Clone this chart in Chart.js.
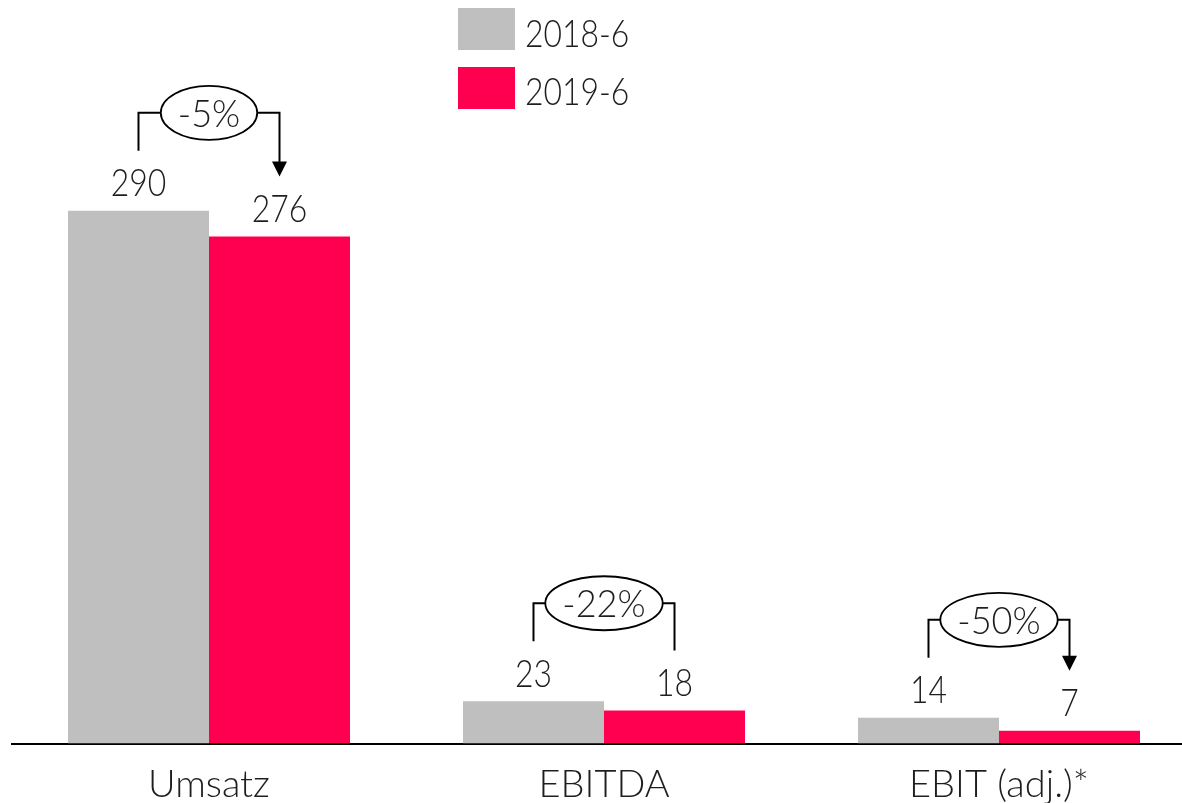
<!DOCTYPE html>
<html><head><meta charset="utf-8">
<script src="https://cdn.jsdelivr.net/npm/chart.js@4.4.0/dist/chart.umd.min.js"></script>
<style>html,body{margin:0;padding:0;background:#fff;overflow:hidden;} #wrap{width:1182px;height:803px;overflow:hidden;position:relative;background:#fff;} canvas{display:block;}</style>
</head><body><div id="wrap"><canvas id="c" width="1200" height="803"></canvas></div>
<script>
const categories = ['Umsatz', 'EBITDA', 'EBIT (adj.)*'];
const seriesNames = ['2018-6', '2019-6'];
const values2018 = [290, 23, 14];
const values2019 = [276, 18, 7];
const changeLabels = ['-5%', '-22%', '-50%'];
const changeArrow = [true, false, true];
const seriesColors = ['#BFBFBF', '#FF0050'];

const FAMILY = "Lato, 'Source Sans Pro', 'Open Sans', sans-serif";
const SIZE = 38;
const WEIGHT = 300;
const FONT = WEIGHT + ' ' + SIZE + 'px ' + FAMILY;
const TEXT = '#1e1e1e';
const NARROW = 0.84;
const PCT_NARROW = 0.95;

function drawText(ctx, str, x, y, align, sx) {
  ctx.save();
  ctx.translate(x, y);
  ctx.scale(sx, 1);
  ctx.textAlign = align; ctx.textBaseline = 'alphabetic';
  ctx.fillText(str, 0, 0);
  ctx.restore();
}

const valueLabels = {
  id: 'valueLabels',
  afterDatasetsDraw(chart) {
    const ctx = chart.ctx;
    ctx.save();
    ctx.font = FONT; ctx.fillStyle = TEXT;
    chart.data.datasets.forEach((ds, di) => {
      chart.getDatasetMeta(di).data.forEach((bar, i) => {
        drawText(ctx, String(ds.data[i]), bar.x, bar.y - 14.5, 'center', NARROW);
      });
    });
    ctx.restore();
  }
};

const changeBrackets = {
  id: 'changeBrackets',
  afterDatasetsDraw(chart) {
    const ctx = chart.ctx;
    const m0 = chart.getDatasetMeta(0).data, m1 = chart.getDatasetMeta(1).data;
    ctx.save();
    ctx.font = FONT;
    ctx.strokeStyle = '#000'; ctx.fillStyle = '#000';
    categories.forEach((c, i) => {
      const a = m0[i], b = m1[i];
      const x0 = a.x, x1 = b.x;
      const by = Math.min(a.y, b.y) - 98;
      const y0 = a.y - 60, y1 = b.y - 60;
      const w = ctx.measureText(changeLabels[i]).width * PCT_NARROW;
      const rx = w / 2 + 17, ry = 27;
      const cx = (x0 + x1) / 2;
      ctx.lineWidth = 2;
      ctx.beginPath();
      ctx.moveTo(x0, y0); ctx.lineTo(x0, by); ctx.lineTo(cx - rx, by);
      ctx.moveTo(cx + rx, by); ctx.lineTo(x1, by);
      ctx.lineTo(x1, changeArrow[i] ? y1 - 14 : y1);
      ctx.stroke();
      ctx.fillStyle = '#000';
      if (changeArrow[i]) {
        ctx.beginPath();
        ctx.moveTo(x1 - 7.5, y1 - 15); ctx.lineTo(x1 + 7.5, y1 - 15); ctx.lineTo(x1, y1);
        ctx.closePath(); ctx.fill();
      }
      ctx.lineWidth = 1.8;
      ctx.beginPath();
      ctx.ellipse(cx, by, rx, ry, 0, 0, Math.PI * 2);
      ctx.fillStyle = '#fff'; ctx.fill();
      ctx.stroke();
      ctx.fillStyle = TEXT;
      drawText(ctx, changeLabels[i], cx, by + 14, 'center', PCT_NARROW);
    });
    ctx.restore();
  }
};

const customLegend = {
  id: 'customLegend',
  afterDraw(chart) {
    const ctx = chart.ctx;
    ctx.save();
    ctx.font = FONT;
    chart.data.datasets.forEach((ds, i) => {
      ctx.fillStyle = ds.backgroundColor;
      ctx.fillRect(458, 8 + i * 59, 57, 42);
      ctx.fillStyle = TEXT;
      drawText(ctx, ds.label, 525, 47 + i * 58, 'left', NARROW);
    });
    ctx.restore();
  }
};

new Chart(document.getElementById('c'), {
  type: 'bar',
  data: {
    labels: categories,
    datasets: [
      { label: seriesNames[0], data: values2018, backgroundColor: seriesColors[0], borderWidth: 0, categoryPercentage: 0.714, barPercentage: 1.0 },
      { label: seriesNames[1], data: values2019, backgroundColor: seriesColors[1], borderWidth: 0, categoryPercentage: 0.714, barPercentage: 1.0 }
    ]
  },
  options: {
    responsive: false, animation: false, devicePixelRatio: 1,
    layout: { padding: { left: 11.5, right: 3.5, top: 119, bottom: 0 } },
    plugins: { legend: { display: false }, tooltip: { enabled: false } },
    scales: {
      x: {
        grid: { display: false },
        border: { display: true, color: '#000', width: 2 },
        ticks: { font: { family: FAMILY, size: SIZE, weight: WEIGHT }, color: TEXT, padding: 10, maxRotation: 0, autoSkip: false },
        afterFit(s) { s.height = 59.5; }
      },
      y: { display: false, min: 0, max: 340 }
    }
  },
  plugins: [valueLabels, changeBrackets, customLegend]
});
</script>
</body></html>
